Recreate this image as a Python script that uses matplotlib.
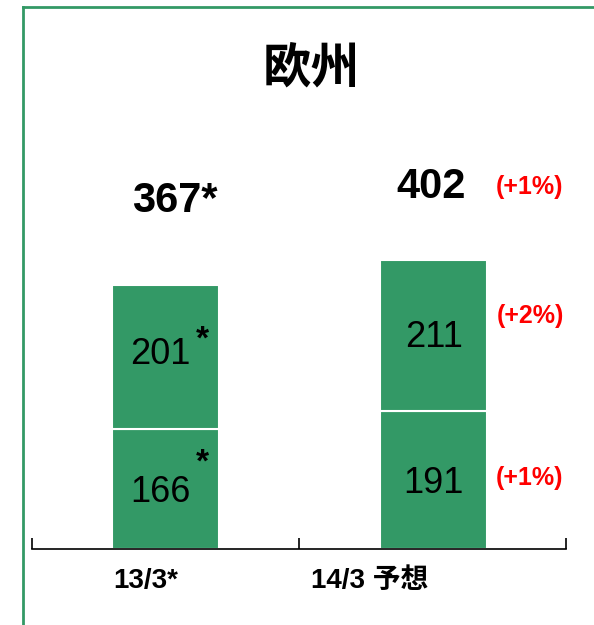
import matplotlib
matplotlib.use("Agg")
import matplotlib.pyplot as plt
from matplotlib import font_manager
from matplotlib.lines import Line2D

# data
periods = ["13/3*", "14/3 予想"]
lower = [166, 191]
upper = [201, 211]
totals = [367, 402]
lower_txt = ["166", "191"]
upper_txt = ["201", "211"]
total_txt = ["367*", "402"]
stars_lower = [True, False]
stars_upper = [True, False]
growth = ["(+1%)", "(+2%)", "(+1%)"]  # total, upper, lower of the forecast

green = "#339966"

names = {f.name for f in font_manager.fontManager.ttflist}
narrow = "Liberation Sans Narrow" if "Liberation Sans Narrow" in names else "Liberation Sans"
cond = [narrow, "Noto Sans CJK JP"]
wide = ["Liberation Sans", "Noto Sans CJK JP"]

fig = plt.figure(figsize=(5.94, 6.25), dpi=100)
ax = fig.add_axes([32/594, 1-549/625, 534/594, 539/625])
ax.set_xlim(0, 2)
ax.set_ylim(0, 539/0.72)

x = [0.5, 1.505]
ax.bar(x, lower, width=0.4, color=green, edgecolor="white", linewidth=1.5)
ax.bar(x, upper, width=0.4, bottom=lower, color=green, edgecolor="white", linewidth=1.5)

for i in range(2):
    dx = -0.02 if stars_lower[i] else 0
    ax.text(x[i] + dx, lower[i] / 2 - 4, lower_txt[i], ha="center", va="center",
            fontsize=26, family=cond)
    ax.text(x[i] + dx, lower[i] + upper[i] / 2 + (4 if stars_upper[i] else -3), upper_txt[i],
            ha="center", va="center", fontsize=26, family=cond)
    if stars_lower[i]:
        ax.text(x[i] + 0.14, lower[i] / 2 + 37, "*", ha="center", va="center",
                fontsize=24, family=wide, fontweight="bold")
    if stars_upper[i]:
        ax.text(x[i] + 0.14, lower[i] + upper[i] / 2 + 24, "*", ha="center", va="center",
                fontsize=24, family=wide, fontweight="bold")

ax.annotate(total_txt[0], (x[0], totals[0]), xytext=(7, 60), textcoords="offset points",
            ha="center", va="center", fontsize=30, fontweight="bold", family=wide)
ax.annotate(total_txt[1], (x[1], totals[1]), xytext=(-2, 52), textcoords="offset points",
            ha="center", va="center", fontsize=30, fontweight="bold", family=wide)

gx = 1.865
ax.text(gx, totals[1] + 101, growth[0], color="red", ha="center", va="center",
        fontsize=18, fontweight="bold", family=cond)
ax.text(gx, lower[1] + upper[1] / 2 + 27, growth[1], color="red", ha="center", va="center",
        fontsize=18, fontweight="bold", family=cond)
ax.text(gx, lower[1] / 2 + 3, growth[2], color="red", ha="center", va="center",
        fontsize=18, fontweight="bold", family=cond)

# axis: baseline with upward ticks, category labels below
for s in ["top", "right", "left"]:
    ax.spines[s].set_visible(False)
ax.spines["bottom"].set_linewidth(1.2)
ax.set_yticks([])
ax.set_xticks([0, 1, 2])
ax.tick_params(axis="x", which="major", direction="in", length=8, width=1.2, labelbottom=False)
ax.set_xticks([0.427, 1.266], minor=True)
ax.set_xticklabels(periods, minor=True, fontsize=20, fontweight="bold", family=cond)
ax.tick_params(axis="x", which="minor", length=0, pad=14)

fig.text(311/594, 1-68/625, "欧州", ha="center", va="center", fontsize=35,
         fontweight="bold", family=["Noto Sans CJK JP"])

# green frame on the left and top
fig.add_artist(Line2D([23/594, 23/594], [0, 1-7/625], color=green, linewidth=2,
                      transform=fig.transFigure))
fig.add_artist(Line2D([23/594, 1], [1-7/625, 1-7/625], color=green, linewidth=2,
                      transform=fig.transFigure))

fig.savefig("out.png", dpi=100)
